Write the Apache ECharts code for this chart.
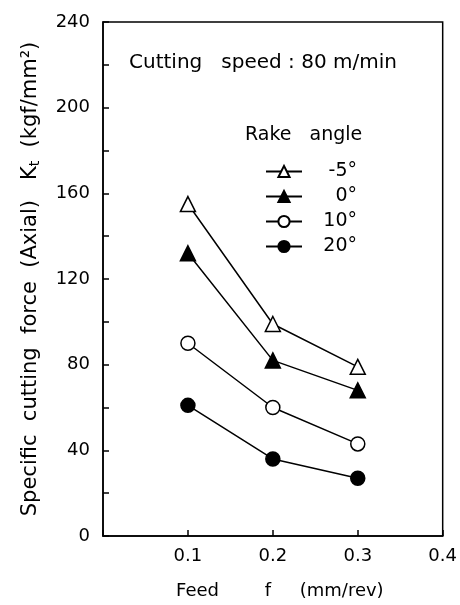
<!DOCTYPE html>
<html><head><meta charset="utf-8">
<script src="https://cdn.jsdelivr.net/npm/echarts@6/dist/echarts.min.js"></script>
<style>html,body{margin:0;padding:0;background:#fff}#c{width:460px;height:605px}</style>
</head><body><div id="c"></div>
<script>
const feed = [0.1, 0.2, 0.3];
const rakeNames = ['-5°', '0°', '10°', '20°'];
const kMinus5 = [155, 99, 79];
const k0 = [132, 82, 68];
const k10 = [90, 60, 43];
const k20 = [61, 36, 27];
const xTicks = [0.1, 0.2, 0.3, 0.4];
const yLabels = [0, 40, 80, 120, 160, 200, 240];

const seriesVals = [kMinus5, k0, k10, k20];
const symbols = ['triangle', 'triangle', 'circle', 'circle'];
const filled = [false, true, false, true];
const F = 'DejaVu Sans';

const chart = echarts.init(document.getElementById('c'));
chart.setOption({
  animation: false,
  backgroundColor: '#fff',
  textStyle: {fontFamily: F, color: '#000'},
  grid: {left: 103, right: 13, top: 22, bottom: 68, show: true, borderColor: '#000', borderWidth: 1.5, backgroundColor: 'transparent'},
  title: {text: 'Cutting   speed : 80 m/min', left: 124, top: 48, textStyle: {fontFamily: F, fontSize: 20, fontWeight: 'normal', color: '#000'}},
  graphic: [{type: 'text', left: 245, top: 126, style: {text: 'Rake   angle', font: '19px "DejaVu Sans"', fill: '#000'}}],
  legend: {
    orient: 'vertical', left: 260, top: 157, itemGap: 6, itemWidth: 36, itemHeight: 14,
    data: rakeNames,
    formatter: n => '{a|' + n + '}',
    textStyle: {fontFamily: F, fontSize: 19, color: '#000', rich: {a: {width: 50, align: 'right', fontSize: 19, fontFamily: F}}}
  },
  xAxis: {
    type: 'value', min: 0, max: 0.4, interval: 0.1,
    name: 'Feed        f     (mm/rev)', nameLocation: 'middle', nameGap: 46,
    nameTextStyle: {fontSize: 18, fontFamily: F, color: '#000', padding: [0, 0, 0, 14]},
    axisLine: {lineStyle: {color: '#000', width: 1.5}},
    axisTick: {show: true, inside: true, length: 6, lineStyle: {color: '#000', width: 1.5}},
    axisLabel: {fontSize: 18, color: '#000', margin: 11, formatter: v => (xTicks.indexOf(Math.round(v*10)/10) >= 0 ? String(Math.round(v*10)/10) : '')},
    splitLine: {show: false}
  },
  yAxis: {
    type: 'value', min: 0, max: 240, interval: 20,
    name: 'Specific  cutting  force  (Axial)   K{s|t}  (kgf/mm²)', nameLocation: 'middle', nameGap: 61,
    nameTextStyle: {fontSize: 21, fontFamily: F, color: '#000', rich: {s: {fontSize: 14, fontFamily: F, verticalAlign: 'bottom', padding: [8, 0, 0, 0]}}},
    axisLine: {lineStyle: {color: '#000', width: 1.5}},
    axisTick: {show: true, inside: true, length: 6, lineStyle: {color: '#000', width: 1.5}},
    axisLabel: {fontSize: 18, color: '#000', margin: 13, formatter: v => (yLabels.indexOf(v) >= 0 ? String(v) : '')},
    splitLine: {show: false}
  },
  series: seriesVals.map((vals, i) => ({
    name: rakeNames[i], type: 'line',
    data: feed.map((f, j) => [f, vals[j]]),
    symbol: symbols[i], symbolSize: symbols[i] === 'triangle' ? 15 : 14,
    showAllSymbol: true,
    lineStyle: {color: '#000', width: 1.5},
    itemStyle: {color: filled[i] ? '#000' : '#fff', borderColor: '#000', borderWidth: 1.5}
  }))
});
</script></body></html>
